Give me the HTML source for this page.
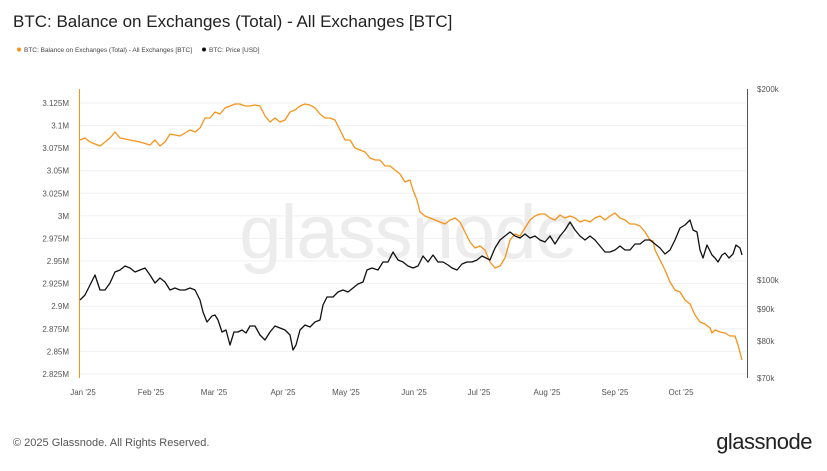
<!DOCTYPE html>
<html><head><meta charset="utf-8"><style>
body{margin:0;width:827px;height:466px;background:#fff;overflow:hidden;font-family:"Liberation Sans",sans-serif}
</style></head><body>
<svg width="827" height="466" xmlns="http://www.w3.org/2000/svg" font-family="Liberation Sans, sans-serif">
<text x="13" y="27" font-size="17" fill="#222">BTC: Balance on Exchanges (Total) - All Exchanges [BTC]</text>
<circle cx="19" cy="49.5" r="2" fill="#f7931a"/>
<text x="24" y="52" font-size="6.5" fill="#444">BTC: Balance on Exchanges (Total) - All Exchanges [BTC]</text>
<circle cx="204" cy="49.5" r="2" fill="#111"/>
<text x="209" y="52" font-size="6.5" fill="#444">BTC: Price [USD]</text>
<g stroke="#f0f0f0" stroke-width="1">
<line x1="80" x2="746" y1="103" y2="103"/><line x1="80" x2="746" y1="125.6" y2="125.6"/><line x1="80" x2="746" y1="148.2" y2="148.2"/><line x1="80" x2="746" y1="170.7" y2="170.7"/><line x1="80" x2="746" y1="193.3" y2="193.3"/><line x1="80" x2="746" y1="215.9" y2="215.9"/><line x1="80" x2="746" y1="238.5" y2="238.5"/><line x1="80" x2="746" y1="261" y2="261"/><line x1="80" x2="746" y1="283.6" y2="283.6"/><line x1="80" x2="746" y1="306.2" y2="306.2"/><line x1="80" x2="746" y1="328.8" y2="328.8"/><line x1="80" x2="746" y1="351.4" y2="351.4"/><line x1="80" x2="746" y1="374" y2="374"/>
</g>
<text x="408" y="258" font-size="76" fill="#ececec" text-anchor="middle" letter-spacing="-1">glassnode</text>
<g font-size="8" fill="#555" text-anchor="end">
<text x="69" y="106">3.125M</text><text x="69" y="128.6">3.1M</text><text x="69" y="151.2">3.075M</text><text x="69" y="173.7">3.05M</text><text x="69" y="196.3">3.025M</text><text x="69" y="218.9">3M</text><text x="69" y="241.5">2.975M</text><text x="69" y="264">2.95M</text><text x="69" y="286.6">2.925M</text><text x="69" y="309.2">2.9M</text><text x="69" y="331.8">2.875M</text><text x="69" y="354.4">2.85M</text><text x="69" y="377">2.825M</text>
</g>
<g font-size="8" fill="#555">
<text x="757" y="92">$200k</text><text x="757" y="283">$100k</text><text x="757" y="312">$90k</text><text x="757" y="344">$80k</text><text x="757" y="381">$70k</text>
</g>
<g font-size="8" fill="#555" text-anchor="middle">
<text x="83" y="395">Jan '25</text><text x="151" y="395">Feb '25</text><text x="214" y="395">Mar '25</text><text x="283" y="395">Apr '25</text><text x="346" y="395">May '25</text><text x="414" y="395">Jun '25</text><text x="479" y="395">Jul '25</text><text x="547" y="395">Aug '25</text><text x="615" y="395">Sep '25</text><text x="681" y="395">Oct '25</text>
</g>
<line x1="79.5" y1="89" x2="79.5" y2="378" stroke="#f7931a" stroke-width="1"/>
<line x1="747.5" y1="89" x2="747.5" y2="378" stroke="#555" stroke-width="1"/>
<polyline fill="none" stroke="#f7931a" stroke-width="1.3" stroke-linejoin="round" points="80,140 85,138 90,142 100,146 110,138 115,132 120,138 130,140 140,142 150,145 155,140 160,146 165,142 170,134 180,136 190,130 195,132 200,128 205,118 210,118 215,112 220,114 225,108 230,106 235,104 240,104 245,106 250,106 255,105 260,106 265,116 270,122 275,118 280,122 285,120 290,112 295,110 300,106 305,104 310,105 315,108 320,114 325,118 330,118 335,120 340,130 345,140 350,140 355,148 360,150 365,152 370,158 375,160 380,160 385,166 390,166 395,170 400,174 405,182 410,180 413,190 417,200 420,212 425,216 430,218 435,220 440,222 445,224 450,220 455,218 460,222 465,232 470,242 475,248 480,246 485,250 490,262 495,268 500,266 505,258 510,240 515,234 520,236 525,228 530,220 535,216 540,214 545,214 550,218 555,220 560,215 565,218 570,216 575,218 580,222 585,220 590,222 595,218 600,216 605,220 610,216 615,213 620,218 625,220 630,224 635,224 640,226 645,232 650,240 653,241 655,250 660,260 665,270 670,282 675,290 680,292 685,300 690,304 695,315 700,322 705,324 710,328 712,333 715,330 720,332 725,333 730,336 735,336 738,345 742,360"/>
<polyline fill="none" stroke="#111" stroke-width="1.3" stroke-linejoin="round" points="80,300 85,295 90,285 95,275 100,290 105,290 110,283 115,272 120,270 125,266 130,268 135,272 140,270 145,268 150,275 155,283 160,278 165,282 170,290 175,288 180,290 185,290 190,288 195,290 200,300 203,312 207,322 212,316 215,315 218,320 222,332 226,330 230,345 234,332 238,332 242,330 246,333 250,326 255,326 260,335 265,340 270,332 275,326 280,328 285,330 290,335 293,350 296,345 300,330 305,325 310,327 315,322 320,320 323,305 327,297 333,297 338,292 343,290 348,292 353,288 358,284 363,282 367,270 372,268 378,270 383,262 388,262 393,252 398,260 403,262 408,266 413,268 418,266 423,256 428,262 433,255 438,262 443,262 448,265 452,268 457,270 462,264 467,262 472,262 477,260 482,256 486,258 490,260 495,248 500,240 505,236 510,232 515,236 520,238 525,234 530,238 535,236 540,240 545,242 550,236 555,244 560,236 565,230 570,222 575,230 580,236 585,240 590,236 595,240 600,246 605,252 610,252 615,250 620,246 625,250 630,250 635,244 640,244 645,240 650,240 655,244 660,248 665,254 670,250 675,240 680,228 685,225 690,220 693,230 697,232 700,250 703,258 707,245 712,255 715,258 718,262 722,255 725,253 729,258 733,254 736,245 740,248 742,255"/>
<text x="13" y="446" font-size="11" fill="#555">© 2025 Glassnode. All Rights Reserved.</text>
<text x="812" y="449" font-size="22" fill="#222" text-anchor="end" letter-spacing="-0.5">glassnode</text>
</svg>
</body></html>
